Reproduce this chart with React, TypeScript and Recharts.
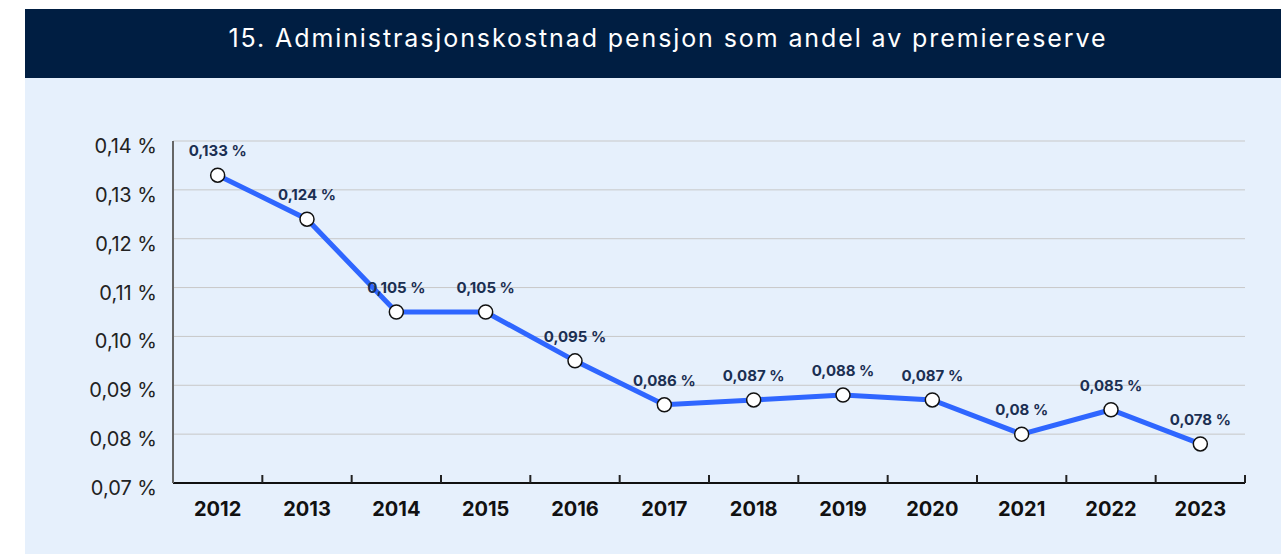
import React from "react";
import { LineChart, Line, XAxis, YAxis, CartesianGrid, LabelList } from "recharts";

const years = ["2012", "2013", "2014", "2015", "2016", "2017", "2018", "2019", "2020", "2021", "2022", "2023"];
const values = [0.133, 0.124, 0.105, 0.105, 0.095, 0.086, 0.087, 0.088, 0.087, 0.08, 0.085, 0.078];
const yTicks = [0.07, 0.08, 0.09, 0.1, 0.11, 0.12, 0.13, 0.14];
const title = "15. Administrasjonskostnad pensjon som andel av premiereserve";

const data = years.map((y, i) => ({ year: y, value: values[i] }));

const W = 1281;
const H = 554;
const PLOT_LEFT = 173;
const PLOT_RIGHT = 1245;
const PLOT_TOP = 141;
const PLOT_BOTTOM = 483;
const X_AXIS_H = 40;
const BAND = (PLOT_RIGHT - PLOT_LEFT) / years.length;
const FONT = "Inter, 'Open Sans', sans-serif";

const XTick = (props: any) => {
  const { x, y, payload } = props;
  return (
    <g>
      <line x1={x + BAND / 2} x2={x + BAND / 2} y1={y - 8} y2={y} stroke="#222" strokeWidth={2} />
      <text x={x} y={y + 33} textAnchor="middle" fontFamily={FONT} fontWeight={700} fontSize={20} fill="#111">
        {payload.value}
      </text>
    </g>
  );
};

const YTick = (props: any) => {
  const { x, y, payload } = props;
  return (
    <text x={x} y={y + 12} textAnchor="end" fontFamily={FONT} fontSize={20} fill="#222">
      {payload.value.toFixed(2).replace(".", ",") + " %"}
    </text>
  );
};

const fmt = (v: any) => String(v).replace(".", ",") + " %";

const ValueLabel = (props: any) => {
  const { x, y, value } = props;
  return (
    <text x={x} y={y - 19} textAnchor="middle" fontFamily={FONT} fontWeight={700} fontSize={15} fill="#1b2f52">
      {fmt(value)}
    </text>
  );
};

const Dot = (props: any) => {
  const { cx, cy } = props;
  return <circle cx={cx} cy={cy} r={7} fill="#fff" stroke="#111" strokeWidth={1.5} />;
};

export default function App() {
  return (
    <div style={{ position: "absolute", left: 0, top: 0, width: W, height: H, background: "#fff", overflow: "hidden" }}>
      <div style={{ position: "absolute", left: 25, top: 78, width: W - 25, height: H - 78, background: "#e6f0fc" }} />
      <div style={{ position: "absolute", left: 25, top: 9, width: W - 25, height: 69, background: "#001e42" }} />
      <div
        style={{
          position: "absolute",
          left: 25,
          top: 9,
          width: W - 25,
          height: 59,
          color: "#fff",
          fontFamily: FONT,
          fontSize: 25,
          letterSpacing: "1.9px",
          lineHeight: "59px",
          textAlign: "center",
          paddingLeft: 30,
          boxSizing: "border-box",
          whiteSpace: "nowrap",
        }}
      >
        {title}
      </div>
      <div style={{ position: "absolute", left: 0, top: 0 }}>
        <LineChart
          width={W}
          height={H}
          data={data}
          margin={{ left: PLOT_LEFT - 80, right: W - PLOT_RIGHT, top: PLOT_TOP, bottom: H - PLOT_BOTTOM - X_AXIS_H }}
        >
          <CartesianGrid vertical={false} stroke="#c8c8c8" strokeWidth={1} />
          <XAxis
            dataKey="year"
            tick={<XTick />}
            tickLine={false}
            tickSize={0}
            tickMargin={0}
            axisLine={{ stroke: "#111", strokeWidth: 2 }}
            height={X_AXIS_H}
            interval={0}
            padding={{ left: BAND / 2, right: BAND / 2 }}
          />
          <YAxis
            width={80}
            domain={[0.07, 0.14]}
            ticks={yTicks}
            tick={<YTick />}
            tickLine={false}
            tickSize={0}
            tickMargin={16}
            axisLine={{ stroke: "#666", strokeWidth: 2 }}
            interval={0}
          />
          <Line
            type="linear"
            dataKey="value"
            stroke="#2f66ff"
            strokeWidth={5}
            dot={<Dot />}
            activeDot={false}
            isAnimationActive={false}
          >
            <LabelList dataKey="value" content={<ValueLabel />} />
          </Line>
        </LineChart>
      </div>
    </div>
  );
}
